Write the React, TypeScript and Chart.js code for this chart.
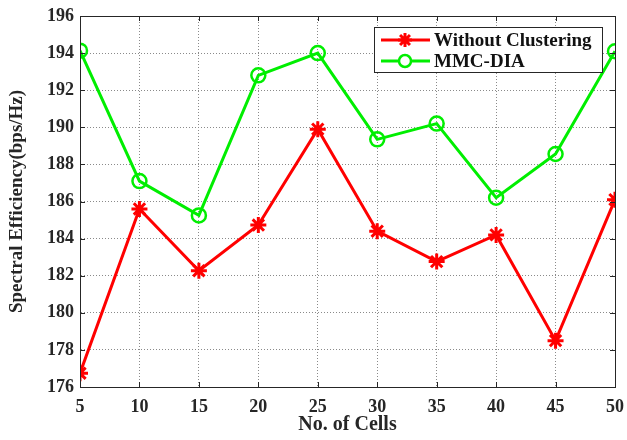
import React, { useEffect, useRef } from "react";
import { Chart, registerables } from "chart.js";

Chart.register(...registerables);

const cells = [5, 10, 15, 20, 25, 30, 35, 40, 45, 50];
const withoutClustering = [176.74, 185.6, 182.27, 184.73, 189.9, 184.4, 182.76, 184.2, 178.5, 186.1];
const mmcDia = [194.13, 187.1, 185.25, 192.8, 194.0, 189.35, 190.2, 186.2, 188.56, 194.1];
const yTicks = [176, 178, 180, 182, 184, 186, 188, 190, 192, 194, 196];
const seriesNames = ["Without Clustering", "MMC-DIA"];
const seriesColors = ["#ff0000", "#00ee00"];
const xTitle = "No. of Cells";
const yTitle = "Spectral Efficiency(bps/Hz)";

const FONT = "'Liberation Serif', 'Times New Roman', serif";

function drawStar(ctx: CanvasRenderingContext2D, x: number, y: number, r: number) {
  ctx.beginPath();
  for (let k = 0; k < 4; k++) {
    const a = (k * Math.PI) / 4;
    ctx.moveTo(x - r * Math.cos(a), y - r * Math.sin(a));
    ctx.lineTo(x + r * Math.cos(a), y + r * Math.sin(a));
  }
  ctx.stroke();
}

const framePlugin = {
  id: "frameAndLegend",
  afterDraw(chart: any) {
    const { ctx, chartArea } = chart;
    const { left, right, top, bottom } = chartArea;
    const xs = chart.scales.x;
    const ys = chart.scales.y;
    ctx.save();
    ctx.strokeStyle = "#262626";
    ctx.lineWidth = 1;
    ctx.setLineDash([]);
    ctx.beginPath();
    const tl = 5;
    for (const v of cells) {
      const px = Math.round(xs.getPixelForValue(v)) + 0.5;
      ctx.moveTo(px, bottom);
      ctx.lineTo(px, bottom - tl);
      ctx.moveTo(px, top);
      ctx.lineTo(px, top + tl);
    }
    for (const v of yTicks) {
      const py = Math.round(ys.getPixelForValue(v)) + 0.5;
      ctx.moveTo(left, py);
      ctx.lineTo(left + tl, py);
      ctx.moveTo(right, py);
      ctx.lineTo(right - tl, py);
    }
    ctx.stroke();
    ctx.strokeRect(Math.round(left) + 0.5, Math.round(top) + 0.5, Math.round(right - left), Math.round(bottom - top));

    // legend
    const bx = 374, by = 27, bw = 228, bh = 45;
    ctx.fillStyle = "#ffffff";
    ctx.fillRect(bx, by, bw, bh);
    ctx.strokeStyle = "#262626";
    ctx.lineWidth = 1;
    ctx.strokeRect(bx + 0.5, by + 0.5, bw, bh);
    const rows = [40, 61];
    rows.forEach((ry, i) => {
      ctx.strokeStyle = seriesColors[i];
      ctx.lineWidth = 3;
      ctx.beginPath();
      ctx.moveTo(381, ry);
      ctx.lineTo(430, ry);
      ctx.stroke();
      if (i === 0) {
        ctx.lineWidth = 3;
        drawStar(ctx, 405, ry, 7);
      } else {
        ctx.lineWidth = 2.5;
        ctx.fillStyle = "#ffffff";
        ctx.beginPath();
        ctx.arc(405, ry, 6, 0, Math.PI * 2);
        ctx.fill();
        ctx.stroke();
      }
      ctx.fillStyle = "#111";
      ctx.font = `bold 19px ${FONT}`;
      ctx.textBaseline = "middle";
      ctx.textAlign = "left";
      ctx.fillText(seriesNames[i], 434, ry + 1);
    });
    ctx.restore();
  },
};

export default function App() {
  const ref = useRef<HTMLCanvasElement>(null);
  useEffect(() => {
    if (!ref.current) return;
    const chart = new Chart(ref.current, {
      type: "line",
      data: {
        datasets: [
          {
            label: seriesNames[0],
            data: cells.map((x, i) => ({ x, y: withoutClustering[i] })),
            borderColor: seriesColors[0],
            backgroundColor: seriesColors[0],
            borderWidth: 3,
            pointStyle: "star",
            pointRadius: 8,
            pointBorderWidth: 3,
            pointBorderColor: seriesColors[0],
            tension: 0,
          },
          {
            label: seriesNames[1],
            data: cells.map((x, i) => ({ x, y: mmcDia[i] })),
            borderColor: seriesColors[1],
            backgroundColor: "rgba(255,255,255,0)",
            borderWidth: 3,
            pointStyle: "circle",
            pointRadius: 7,
            pointBorderWidth: 2.5,
            pointBorderColor: seriesColors[1],
            tension: 0,
          },
        ],
      },
      options: {
        animation: false,
        responsive: false,
        maintainAspectRatio: false,
        layout: { padding: { top: 16, right: 12, left: 0, bottom: 0 } },
        plugins: { legend: { display: false }, tooltip: { enabled: false } },
        scales: {
          x: {
            type: "linear",
            min: 5,
            max: 50,
            afterFit: (s: any) => { s.height = 53; s.paddingLeft = 0; s.paddingRight = 0; },
            ticks: {
              stepSize: 5,
              color: "#262626",
              font: { family: FONT, size: 18, weight: "bold" },
              padding: 10,
            },
            grid: { color: "#8a8a8a", lineWidth: 1, drawTicks: false },
            border: { display: true, color: "#262626", dash: [1, 2] },
            title: {
              display: true,
              text: xTitle,
              color: "#262626",
              font: { family: FONT, size: 20, weight: "bold" },
              padding: { top: 0, bottom: 3 },
            },
          },
          y: {
            type: "linear",
            min: 176,
            max: 196,
            afterFit: (s: any) => { s.width = 80; s.paddingTop = 0; s.paddingBottom = 0; },
            afterBuildTicks: (s: any) => { s.ticks = yTicks.map((v) => ({ value: v })); },
            ticks: {
              color: "#262626",
              font: { family: FONT, size: 18, weight: "bold" },
              padding: 6,
            },
            grid: { color: "#8a8a8a", lineWidth: 1, drawTicks: false },
            border: { display: true, color: "#262626", dash: [1, 2] },
            title: {
              display: true,
              text: yTitle,
              color: "#262626",
              font: { family: FONT, size: 19, weight: "bold" },
              padding: { top: 6, bottom: 0 },
            },
          },
        },
      },
      plugins: [framePlugin],
    } as any);
    return () => chart.destroy();
  }, []);
  return (
    <div style={{ position: "fixed", left: 0, top: 0, width: 627, height: 440, background: "#fff" }}>
      <canvas ref={ref} width={627} height={440} style={{ width: 627, height: 440 }} />
    </div>
  );
}
